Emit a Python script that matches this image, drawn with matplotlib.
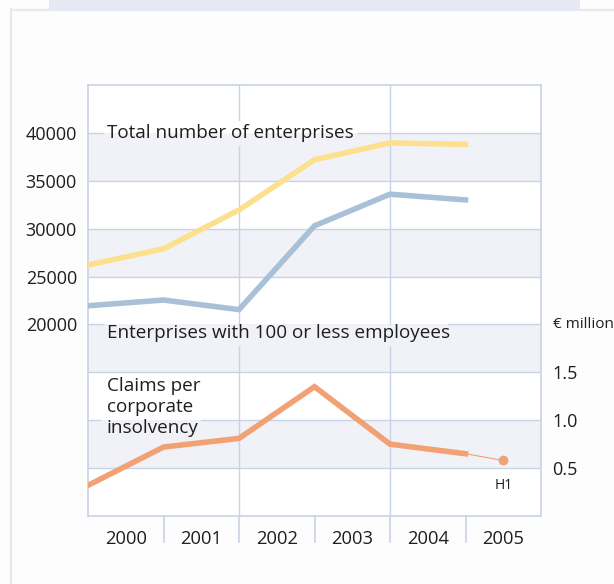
import matplotlib.pyplot as plt
import numpy as np
from matplotlib.patches import Rectangle

plt.rcParams['font.family'] = ['Open Sans', 'DejaVu Sans']

years = ['2000', '2001', '2002', '2003', '2004', '2005']
# values at the year boundaries (start of 2000 ... start of 2005)
total_enterprises = [26200, 27900, 31950, 37200, 38950, 38800]
small_enterprises = [21950, 22550, 21550, 30300, 33600, 33000]
claims = [0.32, 0.72, 0.81, 1.35, 0.75, 0.65]
claims_h1 = 0.58  # first half of 2005

LEFT_TICKS = [20000, 25000, 30000, 35000, 40000]
RIGHT_TICKS = [0.5, 1.0, 1.5]

band = '#f0f2f8'
grid = '#c9d3e6'
yellow = '#fde08e'
blue = '#a9c1d8'
orange = '#f2a174'
text_c = '#1e1e1e'

W, H = 614, 584
fig = plt.figure(figsize=(W / 100, H / 100), dpi=100)
fig.patch.set_facecolor('#fdfdfd')

# card decoration
fig.add_artist(Rectangle((49 / W, 1 - 9 / H), 531 / W, 9 / H, transform=fig.transFigure,
                         facecolor='#e6e9f3', edgecolor='none'))
fig.add_artist(plt.Line2D([11 / W, 11 / W], [0, 1 - 9 / H], transform=fig.transFigure,
                          color='#e6e9f3', lw=1.6))
fig.add_artist(plt.Line2D([11 / W, 1], [1 - 10 / H, 1 - 10 / H], transform=fig.transFigure,
                          color='#e6e9f3', lw=1.6))

ax = fig.add_axes([88 / W, 68 / H, 453 / W, 431 / H])
ax.set_xlim(0, 6)
ax.set_ylim(0, 45000)
ax.set_facecolor('white')
ax2 = ax.twinx()
ax2.set_ylim(0, 4.5)

# alternating bands
for k in range(9):
    if k % 2 == 1:
        ax.axhspan(k * 5000, (k + 1) * 5000, color=band, zorder=0, lw=0)

# label gaps in the grid lines (axes-fraction x ranges)
gaps = {40000: (0.033, 0.595), 20000: (0.033, 0.795), 10000: (0.026, 0.25)}
for k in range(1, 9):
    y = k * 5000
    if y in gaps:
        a, b = gaps[y]
        ax.axhline(y, 0, a, color=grid, lw=1, zorder=1)
        ax.axhline(y, b, 1, color=grid, lw=1, zorder=1)
    else:
        ax.axhline(y, color=grid, lw=1, zorder=1)
for xv in [2, 4]:
    ax.axvline(xv, color=grid, lw=1, zorder=1)

for s in ax.spines.values():
    s.set_color(grid)
    s.set_linewidth(1.2)
for s in ax2.spines.values():
    s.set_visible(False)

# masks behind the series labels, keeping the band colours
def label_mask(x0, x1, y0, y1):
    for k in range(9):
        lo, hi = max(y0, k * 5000), min(y1, (k + 1) * 5000)
        if hi > lo:
            ax.add_patch(Rectangle((x0, lo), x1 - x0, hi - lo, lw=0,
                                   facecolor=band if k % 2 else 'white', zorder=1.5))

label_mask(1.95, 2.05, 38600, 41200)
label_mask(1.95, 2.05, 17800, 19900)
label_mask(3.95, 4.05, 17800, 19900)

x = np.arange(6)
ax.plot(x, total_enterprises, color=yellow, lw=4, zorder=3, solid_joinstyle='miter')
ax.plot(x, small_enterprises, color=blue, lw=4, zorder=3, solid_joinstyle='miter')
ax2.plot(x, claims, color=orange, lw=4, zorder=3, solid_joinstyle='miter')
ax2.plot([x[-1], x[-1] + 0.5], [claims[-1], claims_h1], color=orange, lw=0.8, zorder=3)
ax2.plot([x[-1] + 0.5], [claims_h1], 'o', color=orange, ms=6, zorder=3)
ax2.text(x[-1] + 0.5, claims_h1 - 0.26, 'H1', ha='center', va='center', fontsize=10, color=text_c)

ax.text(0.25, 40000, 'Total number of enterprises', fontsize=13.6, va='center', color=text_c, zorder=4)
ax.text(0.25, 19100, 'Enterprises with 100 or less employees', fontsize=13.6, va='center',
        color=text_c, zorder=4)
ax2.text(0.25, 1.45, 'Claims per\ncorporate\ninsolvency', fontsize=13.6, va='top', color=text_c,
         zorder=4, linespacing=1.2)

ax.set_yticks(LEFT_TICKS)
ax.set_yticklabels([str(v) for v in LEFT_TICKS])
ax.tick_params(axis='y', length=0, pad=8, labelsize=13, labelcolor=text_c)
ax2.set_yticks(RIGHT_TICKS)
ax2.set_yticklabels([f'{v:.1f}' for v in RIGHT_TICKS])
ax2.tick_params(axis='y', length=0, pad=8, labelsize=13, labelcolor=text_c)
ax2.text(1.026, 2.0, '€ million', transform=ax2.get_yaxis_transform(), fontsize=11,
         va='center', color=text_c)

# years between separators
ax.set_xticks(np.arange(6) + 0.5)
ax.set_xticklabels(years)
ax.tick_params(axis='x', length=0, pad=10, labelsize=13.2, labelcolor=text_c)
for xv in range(1, 6):
    ax.plot([xv, xv], [0, -2700], color=grid, lw=1.2, clip_on=False, zorder=1)

fig.savefig('out.png', dpi=100, facecolor=fig.get_facecolor())
